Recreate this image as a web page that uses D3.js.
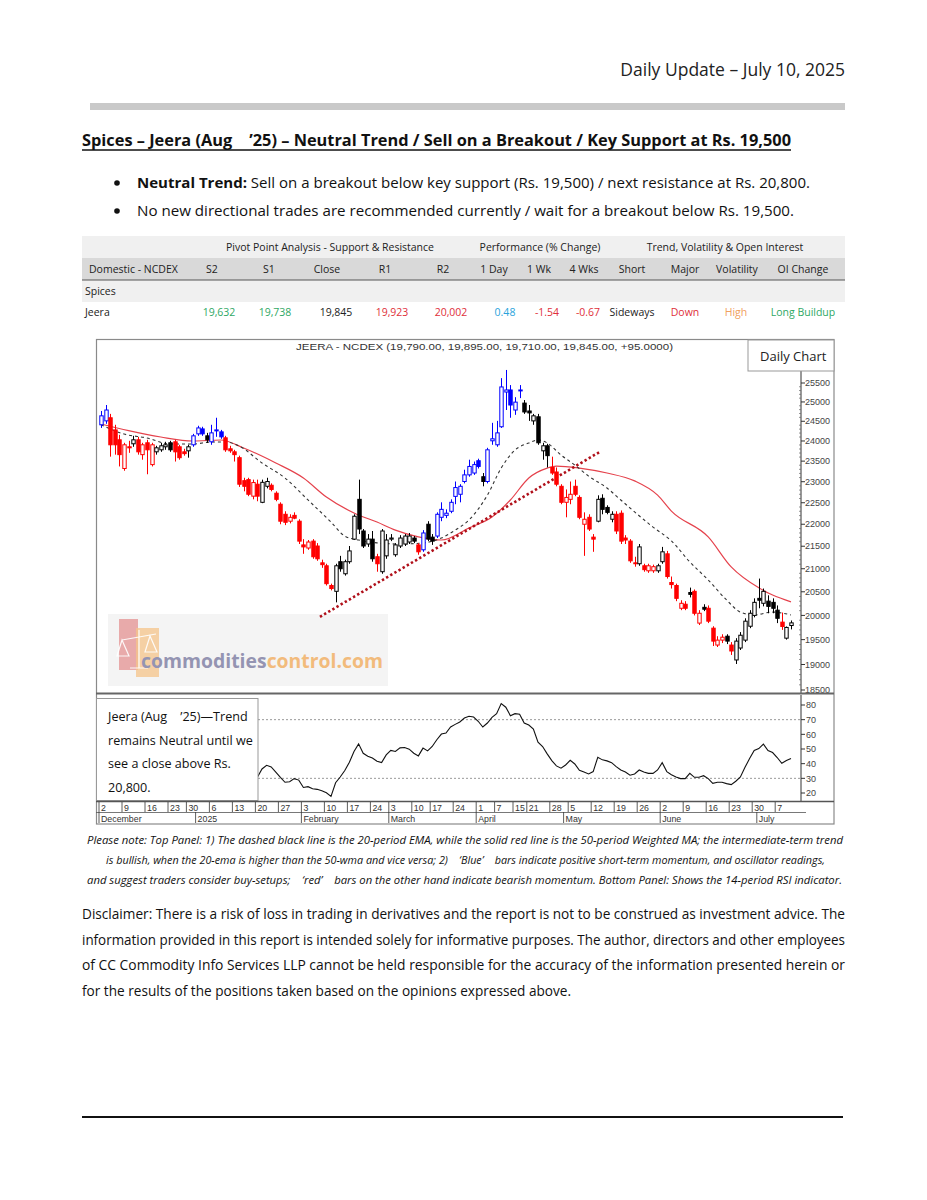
<!DOCTYPE html>
<html><head><meta charset="utf-8">
<script src="https://cdn.jsdelivr.net/npm/d3@7"></script>
<style>
html,body{margin:0;padding:0;background:#fff;}
svg{display:block;}
text{font-family:"Open Sans","Noto Sans",sans-serif;}
.pre{white-space:pre;}
.ax{font-family:"Liberation Sans",Arial,sans-serif;}
</style></head><body>
<svg id="c" width="927" height="1200"></svg>
<script>
// ---------------- DATA ----------------
const holidays = ["2024-12-25","2025-02-26","2025-03-14","2025-03-31","2025-04-10","2025-04-14","2025-04-18","2025-05-01"];
const firstDay = "2024-12-02", lastDay = "2025-07-10";

const open = [24410,24510,24590,24280,24030,23320,23855,23930,24030,23660,
23955,23415,23730,23780,23855,23955,23980,23855,23730,23755,
23905,24180,24305,24130,23980,24255,24230,24080,23805,23730,
23585,23025,23050,22655,22940,22510,22890,22915,22725,22465,
22230,22070,22205,22070,21530,21460,21615,21505,21130,21065,
20635,20510,21155,20890,21155,21660,22580,21845,21550,21660,
21265,20935,21285,21660,21310,21505,21550,21595,21685,21530,
21420,22000,21705,21730,22160,22205,22300,22650,22700,23005,
23165,23210,23510,23120,23005,24005,23905,24360,25260,25315,
24790,25290,24970,24765,24510,24615,23755,23880,23345,23235,
22890,22510,22580,22890,22625,22000,22160,21705,22070,22605,
22390,22115,22230,22255,21685,21615,21130,21110,21065,20955,
20955,20955,21155,21330,20700,20635,20150,20235,20485,20510,
19840,20170,20150,19735,19390,19490,19570,19390,19090,19330,
19490,19775,20000,20360,20255,20300,20275,20110,19860,19530,
19790];
const high = [24765,24920,24690,24410,24155,23955,24005,24130,24105,23955,
24030,23955,23880,23955,23980,24005,24030,23905,23805,23905,
24180,24385,24360,24205,24410,24590,24280,24130,23880,23780,
23635,23095,23095,23050,23050,23050,23095,22960,22770,22510,
22300,22230,22275,22115,21660,21640,21660,21570,21200,21110,
20675,21110,21285,21200,21505,22230,23050,21890,21775,21845,
21330,21890,21775,21775,21570,21750,21775,21800,21730,21570,
21865,22070,21775,22275,22510,22345,22580,23005,22940,23290,
23535,23490,23560,23210,23830,24460,24510,25630,25850,25445,
25125,25445,25050,24920,24690,24690,23955,23930,23610,23345,
22940,22815,23005,23050,22675,22275,22230,21775,22675,22700,
22440,22300,22300,22320,21750,21660,21265,21550,21110,21110,
21090,21110,21485,21395,20830,20675,20320,20300,20590,20550,
20110,20235,20210,19775,19570,19610,19610,19450,19530,19655,
19940,20110,20360,20785,20570,20425,20360,20210,20060,19770,
19895];
const low = [24330,24435,23610,23660,23370,23265,23705,23855,23660,23535,
23180,23370,23660,23730,23780,23730,23490,23535,23635,23585,
23855,24130,24130,23955,23905,24105,24055,23730,23705,23490,
22875,22770,22655,22580,22535,22490,22840,22770,22535,22000,
21980,22020,22115,21550,21330,21420,21220,21175,21020,20635,
20530,20275,20935,20850,21110,21640,21775,21460,21485,21155,
20935,20890,21220,21615,21265,21460,21505,21550,21570,21310,
21375,21615,21530,21685,22070,22140,22255,22465,22510,22960,
23120,23165,23320,22890,22960,23905,23855,24330,24790,24590,
24665,25100,24690,24510,24410,23905,23535,23345,23165,22890,
22465,22160,22465,22655,22115,21285,21845,21375,22045,22230,
22230,22045,21775,21550,21550,21130,21045,21065,20935,20910,
20910,20910,21110,20785,20570,20300,20110,20110,20380,20000,
19800,20090,19840,19370,19350,19430,19410,19190,19010,19290,
19450,19735,19960,20150,20190,20045,20045,19840,19700,19500,
19710];
const close = [24640,24790,23905,23905,23660,23905,23830,24030,23730,23905,
23780,23905,23830,23880,23905,23780,23730,23585,23685,23855,
24130,24330,24180,24030,24205,24280,24105,23780,23755,23660,
22940,22890,22700,22980,22655,22985,23005,22815,22580,22070,
22045,22160,22140,21615,21485,21595,21265,21220,21090,20675,
20570,21065,21000,21155,21395,22185,21890,21505,21660,21220,
21110,21845,21640,21685,21530,21685,21730,21730,21615,21375,
21800,21660,21615,22230,22345,22255,22510,22860,22890,23165,
23370,23415,23370,23005,23780,24055,24205,25395,25315,24920,
24995,25315,24740,24715,24640,23955,23880,23635,23210,22940,
22510,22625,22700,22700,22160,22115,21890,21660,22580,22345,
22275,22230,21845,21615,21640,21175,21110,21485,20980,21065,
21045,21065,21375,20830,20655,20360,20255,20150,20445,20045,
20045,20130,19880,19470,19490,19550,19470,19270,19470,19590,
19880,20045,20275,20320,20510,20190,20150,19940,19770,19750,
19845];
// b = blue (positive momentum), r = red (bearish), k = neutral
const momentum = "bbrrrrrkrrrrkkkkrrrkbbbkbbbrrrrrrrrkkrrrrrrrrrrrrrrkkkkkkkkkrkkkkkkkkrbkkbbbbbbbbbbkbbbbbbbbkkkkkkrrrrrrrrrrkkkkrrrrrkrrrkkrrrrrkrrkrrrrkrkkkkkkkkkkrkk";

// 20-period EMA and 50-period WMA read at sample sessions
const emaIdx = [0,5,10,15,20,24,27,30,35,40,45,50,53,56,60,65,70,74,77,80,84,87,90,93,95,97,100,103,106,110,113,116,120,124,128,132,136,139,142,146,150];
const emaVal = [24410,24175,24075,23925,23925,23975,23975,23875,23455,23090,22565,22050,21730,21640,21575,21550,21575,21685,21865,22098,22680,23330,23775,23950,24025,23950,23650,23405,23135,22850,22565,22285,21935,21620,21150,20755,20325,20070,20010,20070,20010];
const wmaIdx = [0,6,13,20,26,31,38,44,49,55,60,64,69,74,80,85,89,93,97,99,104,110,116,121,124,132,137,143,146,150];
const wmaVal = [24430,24260,24100,24000,24025,23825,23455,23090,22635,22260,22050,21865,21710,21640,21915,22165,22565,23090,23330,23380,23330,23210,23020,22680,22305,21710,21040,20585,20430,20285];

// trend line (session index, price)
const trendIdx = [47.6,108.3];
const trendVal = [19970,23720];

// 14-period RSI, one value per session from session 34
const rsiStart = 34;
const rsi = [30.7,36.4,38.9,37.8,34.3,30.7,27.3,27.7,29.8,28.8,
23.8,24.3,22.9,22.5,21.5,20.2,17.7,27.0,30.9,35.3,
41.0,48.3,53.5,47.1,45.1,43.9,41.7,40.7,46.0,49.0,
48.3,50.8,51.0,49.9,47.1,45.3,50.6,48.7,51.7,56.3,
60.2,60.9,65.0,66.8,68.4,71.1,72.3,71.8,68.9,65.0,
67.7,71.6,74.1,81.0,78.5,72.7,74.1,73.7,67.7,66.3,
63.6,54.7,51.7,46.7,42.1,38.5,36.9,39.1,42.3,39.8,
35.5,34.3,33.0,34.6,44.4,42.6,41.9,40.7,38.0,35.7,
34.3,32.1,33.0,35.7,34.3,33.4,33.4,35.7,40.7,34.6,
32.5,30.9,29.8,29.8,33.4,30.7,30.7,31.8,29.8,26.6,
27.3,27.3,26.4,25.7,28.0,30.9,37.5,43.5,49.0,50.3,
53.3,49.0,47.6,44.2,40.3,42.1,43.5];

const priceTicks = [18500,19000,19500,20000,20500,21000,21500,22000,22500,23000,23500,24000,24500,25000,25500];
const rsiTicks = [20,30,40,50,60,70,80];
const dayTicks = ["2024-12-02","2024-12-09","2024-12-16","2024-12-23","2024-12-30","2025-01-06","2025-01-13","2025-01-20","2025-01-27","2025-02-03","2025-02-10","2025-02-17","2025-02-24","2025-03-03","2025-03-10","2025-03-17","2025-03-24","2025-04-01","2025-04-07","2025-04-15","2025-04-21","2025-04-28","2025-05-05","2025-05-12","2025-05-19","2025-05-26","2025-06-02","2025-06-09","2025-06-16","2025-06-23","2025-06-30","2025-07-07"];
const monthTickDates = ["2024-12-02","2025-01-01","2025-02-03","2025-03-03","2025-04-01","2025-05-02","2025-06-02","2025-07-01"];
const monthTickLabels = ["December","2025","February","March","April","May","June","July"];

// table
const colHeads = ["Domestic - NCDEX","S2","S1","Close","R1","R2","1 Day","1 Wk","4 Wks","Short","Major","Volatility","OI Change"];
const rowValues = ["Jeera","19,632","19,738","19,845","19,923","20,002","0.48","-1.54","-0.67","Sideways","Down","High","Long Buildup"];
const groupHeads = ["Pivot Point Analysis - Support & Resistance","Performance (% Change)","Trend, Volatility & Open Interest"];

// ---------------- DRAW ----------------
const svg = d3.select("#c");
const dates = [];
{
  let d = new Date(firstDay + "T00:00:00Z");
  const end = new Date(lastDay + "T00:00:00Z");
  while (d <= end) {
    const s = d.toISOString().slice(0,10), w = d.getUTCDay();
    if (w !== 0 && w !== 6 && !holidays.includes(s)) dates.push(s);
    d = new Date(d.getTime() + 86400000);
  }
}
const idxOf = s => dates.indexOf(s);

// header
svg.append("text").attr("x",845).attr("y",76).attr("text-anchor","end")
  .attr("font-size",17.5).attr("fill","#222").text("Daily Update – July 10, 2025");
svg.append("rect").attr("x",90).attr("y",103).attr("width",755).attr("height",7).attr("fill","#c9c9c9");

svg.append("text").attr("class","pre").attr("x",82).attr("y",146).attr("font-size",16.5).attr("font-weight",700)
  .attr("fill","#111").attr("textLength",709).attr("lengthAdjust","spacingAndGlyphs")
  .text("Spices – Jeera (Aug    ’25) – Neutral Trend / Sell on a Breakout / Key Support at Rs. 19,500");
svg.append("line").attr("x1",82).attr("x2",791).attr("y1",150).attr("y2",150).attr("stroke","#111").attr("stroke-width",1.3);

// bullets
[[188,"Neutral Trend:"," Sell on a breakout below key support (Rs. 19,500) / next resistance at Rs. 20,800.",673],
 [216,"","No new directional trades are recommended currently / wait for a breakout below Rs. 19,500.",657]]
.forEach(([y,b,r,len])=>{
  svg.append("circle").attr("cx",117).attr("cy",y-5).attr("r",2.8).attr("fill","#111");
  const t = svg.append("text").attr("class","pre").attr("x",137).attr("y",y).attr("font-size",15).attr("fill","#111")
    .attr("textLength",len).attr("lengthAdjust","spacingAndGlyphs");
  if (b) t.append("tspan").attr("font-weight",700).text(b);
  t.append("tspan").text(r);
});

// table
const tbl = svg.append("g");
tbl.append("rect").attr("x",82).attr("y",236).attr("width",763).attr("height",22).attr("fill","#f0f0f0");
tbl.append("rect").attr("x",82).attr("y",258).attr("width",763).attr("height",22).attr("fill","#d9d9d9");
tbl.append("rect").attr("x",82).attr("y",280).attr("width",763).attr("height",22).attr("fill","#f0f0f0");
tbl.append("line").attr("x1",82).attr("x2",845).attr("y1",280).attr("y2",280).attr("stroke","#555").attr("stroke-width",1);
[330,540,725].forEach((x,i)=>tbl.append("text").attr("x",x).attr("y",251).attr("text-anchor","middle")
  .attr("font-size",10.5).attr("fill","#222").text(groupHeads[i]));
const headX = [89,212,269,327,385,443,494,539,584,632,685,737,803];
const valX  = [85,219,275,336,392,451,505,547,588,632,685,736,803];
const valCol = ["#222","#2fa864","#2fa864","#222","#e0303a","#e0303a","#2aa3dc","#e0303a","#e0303a","#222","#e0303a","#f0a060","#2fa864"];
colHeads.forEach((h,i)=>tbl.append("text").attr("x",headX[i]).attr("y",273)
  .attr("text-anchor",i===0?"start":"middle").attr("font-size",10.5).attr("fill","#222").text(h));
tbl.append("text").attr("x",85).attr("y",295).attr("font-size",10.5).attr("fill","#222").text("Spices");
rowValues.forEach((v,i)=>tbl.append("text").attr("x",valX[i]).attr("y",316)
  .attr("text-anchor",i===0?"start":"middle").attr("font-size",10.5).attr("fill",valCol[i]).text(v));

// ---------------- chart ----------------
const L = 97, R = 834, T = 340, axisX = 801;
const pBottom = 693, rTop = 695, rBottom = 801, dBottom = 824;
const x = d3.scaleLinear().domain([0, dates.length-1]).range([101, 101 + 4.6*(dates.length-1)]);
const y = d3.scaleLog().domain([18500,25500]).range([690,383]);
const yr = d3.scaleLinear().domain([20,80]).range([793,705]);

const ch = svg.append("g");
ch.append("rect").attr("x",96.5).attr("y",339.5).attr("width",R-96.5).attr("height",dBottom-339.5)
  .attr("fill","#fff").attr("stroke","#8a8a8a").attr("stroke-width",1.2);

svg.append("defs").append("clipPath").attr("id","pc").append("rect")
  .attr("x",L).attr("y",T+1).attr("width",axisX-L).attr("height",pBottom-T-1);

// watermark
const wm = ch.append("g");
wm.append("rect").attr("x",108).attr("y",614).attr("width",280).attr("height",72).attr("fill","#f4f4f4");
wm.append("rect").attr("x",119).attr("y",619).attr("width",19).attr("height",51).attr("fill","#e38a8a").attr("opacity",0.7);
wm.append("rect").attr("x",136).attr("y",628).attr("width",23).attr("height",49).attr("fill","#f6c48a").attr("opacity",0.75);
wm.append("path").attr("d","M122,640 L156,634 M139,630 L139,668 M122,640 L117,656 L129,656 Z M150,636 L145,652 L157,652 Z M130,668 L148,668")
  .attr("fill","none").attr("stroke","#fff").attr("stroke-width",1.2).attr("opacity",0.9);
const wt = wm.append("text").attr("x",141).attr("y",668).attr("font-size",20).attr("font-weight",700)
  .attr("textLength",242).attr("lengthAdjust","spacingAndGlyphs");
wt.append("tspan").attr("fill","#9494b2").text("commodities");
wt.append("tspan").attr("fill","#f2bb7c").text("control.com");

// title
ch.append("text").attr("class","ax").attr("x",296).attr("y",350).attr("font-size",9.5).attr("fill","#333")
  .attr("textLength",377).attr("lengthAdjust","spacingAndGlyphs")
  .text("JEERA - NCDEX (19,790.00, 19,895.00, 19,710.00, 19,845.00, +95.0000)");

// price axis
ch.append("line").attr("x1",axisX).attr("x2",axisX).attr("y1",T).attr("y2",pBottom).attr("stroke","#333");
priceTicks.forEach(p=>{
  ch.append("line").attr("x1",axisX).attr("x2",axisX+4).attr("y1",y(p)).attr("y2",y(p)).attr("stroke","#333");
  ch.append("text").attr("class","ax").attr("x",axisX+4).attr("y",y(p)+3.2).attr("font-size",9).attr("fill","#444").text(p);
});
d3.range(18600,25600,100).forEach(p=>{ if(p%500) ch.append("line").attr("x1",axisX-2).attr("x2",axisX).attr("y1",y(p)).attr("y2",y(p)).attr("stroke","#666").attr("stroke-width",0.7);});

const pg = ch.append("g").attr("clip-path","url(#pc)");
// moving averages
const lineFn = d3.line().curve(d3.curveMonotoneX);
pg.append("path").attr("d",lineFn(wmaIdx.map((d,i)=>[x(d),y(wmaVal[i])])))
  .attr("fill","none").attr("stroke","#e5424c").attr("stroke-width",1.2);
pg.append("path").attr("d",lineFn(emaIdx.map((d,i)=>[x(d),y(emaVal[i])])))
  .attr("fill","none").attr("stroke","#333").attr("stroke-width",1.1).attr("stroke-dasharray","3,3");
// trend line
pg.append("line").attr("x1",x(trendIdx[0])).attr("y1",y(trendVal[0])).attr("x2",x(trendIdx[1])).attr("y2",y(trendVal[1]))
  .attr("stroke","#b0101a").attr("stroke-width",2.6).attr("stroke-dasharray","2.4,2.4");

// candles
const colMap = {b:"#0000ff", r:"#ff0000", k:"#000000"};
const bw = 3.4;
dates.forEach((d,i)=>{
  const c = colMap[momentum[i]];
  const cx = Math.round(x(i)) + 0.5;
  pg.append("line").attr("x1",cx).attr("x2",cx).attr("y1",y(high[i])).attr("y2",y(low[i])).attr("stroke",c).attr("stroke-width",1);
  const top = y(Math.max(open[i],close[i])), bot = y(Math.min(open[i],close[i]));
  const filled = close[i] < open[i];
  pg.append("rect").attr("x",cx-bw/2).attr("y",top).attr("width",bw).attr("height",Math.max(bot-top,0.8))
    .attr("fill",filled?c:"#fff").attr("stroke",c).attr("stroke-width",1);
});

// Daily chart label
ch.append("rect").attr("x",748).attr("y",340).attr("width",R-748).attr("height",31).attr("fill","#fff").attr("stroke","#999");
ch.append("text").attr("x",760).attr("y",361).attr("font-size",13).attr("fill","#222").text("Daily Chart");

// panel separator
ch.append("line").attr("x1",L-1).attr("x2",R).attr("y1",pBottom+0.5).attr("y2",pBottom+0.5).attr("stroke","#666").attr("stroke-width",2);

// RSI panel
ch.append("line").attr("x1",axisX).attr("x2",axisX).attr("y1",rTop).attr("y2",rBottom).attr("stroke","#333");
rsiTicks.forEach(v=>{
  ch.append("line").attr("x1",axisX).attr("x2",axisX+4).attr("y1",yr(v)).attr("y2",yr(v)).attr("stroke","#333");
  ch.append("text").attr("class","ax").attr("x",axisX+5).attr("y",yr(v)+3.2).attr("font-size",9).attr("fill","#444").text(v);
});
[70,30].forEach(v=>ch.append("line").attr("x1",258).attr("x2",axisX).attr("y1",yr(v)).attr("y2",yr(v))
  .attr("stroke","#999").attr("stroke-width",1).attr("stroke-dasharray","2,2"));
ch.append("path").attr("d",d3.line()(rsi.map((v,k)=>[x(rsiStart+k),yr(v)])))
  .attr("fill","none").attr("stroke","#111").attr("stroke-width",1.1);

// RSI comment box
ch.append("rect").attr("x",96.5).attr("y",698.5).attr("width",161.5).attr("height",102).attr("fill","#fff").attr("stroke","#999");
["Jeera (Aug    ’25)—Trend","remains Neutral until we","see a close above Rs.","20,800."].forEach((s,i)=>
  ch.append("text").attr("class","pre").attr("x",108).attr("y",721+i*23.7).attr("font-size",12.6).attr("fill","#111").text(s));

// date axis
ch.append("line").attr("x1",L-1).attr("x2",R).attr("y1",rBottom+0.5).attr("y2",rBottom+0.5).attr("stroke","#555").attr("stroke-width",1.5);
ch.append("line").attr("x1",L-1).attr("x2",axisX+5).attr("y1",812.5).attr("y2",812.5).attr("stroke","#555").attr("stroke-width",0.8);
dayTicks.forEach(s=>{
  const xi = x(idxOf(s)) - 2;
  ch.append("line").attr("x1",xi).attr("x2",xi).attr("y1",802).attr("y2",812).attr("stroke","#333").attr("stroke-width",0.8);
  ch.append("text").attr("class","ax").attr("x",xi+2).attr("y",811).attr("font-size",8.8).attr("fill","#333").text(+s.slice(8));
});
monthTickDates.forEach((s,i)=>{
  const xi = x(idxOf(s)) - 2;
  ch.append("line").attr("x1",xi).attr("x2",xi).attr("y1",812).attr("y2",823).attr("stroke","#333").attr("stroke-width",0.8);
  ch.append("text").attr("class","ax").attr("x",xi+2).attr("y",822).attr("font-size",8.8).attr("fill","#333").text(monthTickLabels[i]);
});

// footnote
[[87,844,756,"Please note: Top Panel: 1) The dashed black line is the 20-period EMA, while the solid red line is the 50-period Weighted MA; the intermediate-term trend"],
 [106,864,719,"is bullish, when the 20-ema is higher than the 50-wma and vice versa; 2)    ‘Blue’    bars indicate positive short-term momentum, and oscillator readings,"],
 [87,884,755,"and suggest traders consider buy-setups;    ‘red’    bars on the other hand indicate bearish momentum. Bottom Panel: Shows the 14-period RSI indicator."]]
.forEach(([xx,yy,len,s])=>svg.append("text").attr("class","pre").attr("x",xx).attr("y",yy).attr("font-size",10.5)
  .attr("font-style","italic").attr("fill","#111").attr("textLength",len).attr("lengthAdjust","spacingAndGlyphs").text(s));

// disclaimer
[["Disclaimer: There is a risk of loss in trading in derivatives and the report is not to be construed as investment advice. The",763],
 ["information provided in this report is intended solely for informative purposes. The author, directors and other employees",763],
 ["of CC Commodity Info Services LLP cannot be held responsible for the accuracy of the information presented herein or",763],
 ["for the results of the positions taken based on the opinions expressed above.",489]]
.forEach(([s,len],i)=>svg.append("text").attr("x",82).attr("y",919+i*25.7).attr("font-size",14.5).attr("fill","#111")
  .attr("textLength",len).attr("lengthAdjust","spacingAndGlyphs").text(s));

svg.append("line").attr("x1",82).attr("x2",843).attr("y1",1117).attr("y2",1117).attr("stroke","#111").attr("stroke-width",2);
</script>
</body></html>
